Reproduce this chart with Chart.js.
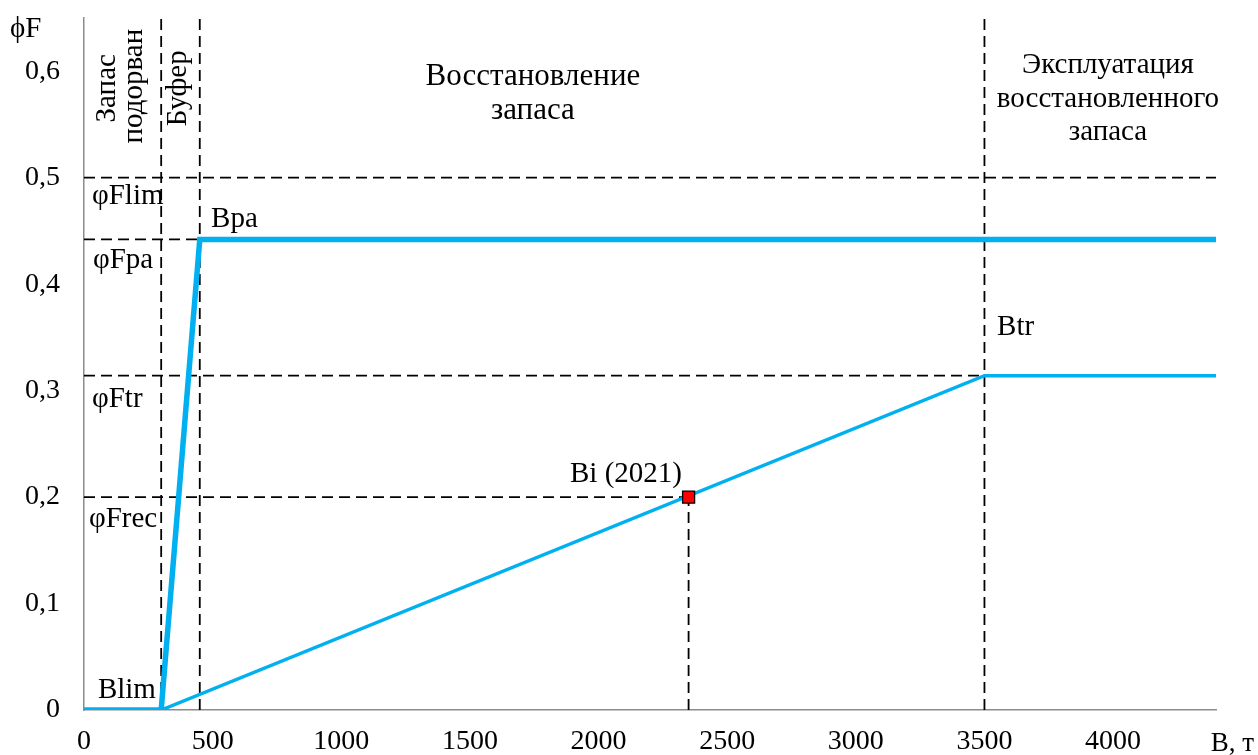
<!DOCTYPE html>
<html>
<head>
<meta charset="utf-8">
<script src="https://cdn.jsdelivr.net/npm/chart.js@4"></script>
<style>
  html, body { margin: 0; padding: 0; background: #fff; }
  #chart { display: block; }
</style>
</head>
<body>
<canvas id="chart" width="1258" height="755"></canvas>
<script>
// reference points (B, т / ϕF)
const bLim = 300, bBuf = 450, bTr = 3500, bCur = 2350;
const fLim = 0.5, fPa = 0.442, fTr = 0.314, fRec = 0.2;
const xMax = 4400, yMax = 0.65;

// control rule lines
const paX = [0, 300, 450, 4400];
const paY = [0, 0, 0.442, 0.442];
const trX = [300, 3500, 4400];
const trY = [0, 0.314, 0.314];

// current stock point
const curX = [2350];
const curY = [0.2];

const xTicks = [0, 500, 1000, 1500, 2000, 2500, 3000, 3500, 4000];
const yTicks = [0, 0.1, 0.2, 0.3, 0.4, 0.5, 0.6];

const BLUE = "#00B0F0";
const FONT = "'Liberation Serif', 'Times New Roman', serif";

const pts = (xs, ys) => xs.map((x, i) => ({ x: x, y: ys[i] }));

function dashed(points) {
  return {
    data: points, showLine: true, borderColor: "#000", borderWidth: 1.8,
    borderDash: [11, 6], pointRadius: 0, fill: false, order: 5
  };
}

// text labels in data coords (baseline)
const labels = [
  { t: "Восстановление", x: 1745, y: 0.587, s: 31 },
  { t: "запаса", x: 1745, y: 0.555, s: 31 },
  { t: "Эксплуатация", x: 3980, y: 0.598 },
  { t: "восстановленного", x: 3980, y: 0.566 },
  { t: "запаса", x: 3980, y: 0.535 },
  { t: "φFlim", x: 31, y: 0.475, a: "left" },
  { t: "Bpa", x: 494, y: 0.454, a: "left" },
  { t: "φFpa", x: 35, y: 0.415, a: "left" },
  { t: "φFtr", x: 31, y: 0.285, a: "left" },
  { t: "φFrec", x: 19, y: 0.172, a: "left" },
  { t: "Btr", x: 3549, y: 0.352, a: "left" },
  { t: "Bi (2021)", x: 1889, y: 0.214, a: "left" },
  { t: "Blim", x: 54, y: 0.011, a: "left" }
];
const vLabels = [
  { t: "Запас", x: 120, y: 0.584 },
  { t: "подорван", x: 225, y: 0.586 },
  { t: "Буфер", x: 396, y: 0.584 }
];

const textPlugin = {
  id: "texts",
  afterDatasetsDraw(chart) {
    const ctx = chart.ctx, xs = chart.scales.x, ys = chart.scales.y;
    ctx.save();
    ctx.fillStyle = "#000";
    ctx.textBaseline = "alphabetic";
    labels.forEach((l) => {
      ctx.font = (l.s || 29) + "px " + FONT;
      ctx.textAlign = l.a || "center";
      ctx.fillText(l.t, xs.getPixelForValue(l.x), ys.getPixelForValue(l.y));
    });
    ctx.font = "29px " + FONT;
    vLabels.forEach((l) => {
      ctx.save();
      ctx.translate(xs.getPixelForValue(l.x), ys.getPixelForValue(l.y));
      ctx.rotate(-Math.PI / 2);
      ctx.textAlign = "center";
      ctx.fillText(l.t, 0, 0);
      ctx.restore();
    });
    // axis titles
    ctx.textAlign = "left";
    ctx.fillText("ϕF", 10, 37);
    ctx.font = "27px " + FONT;
    ctx.textAlign = "right";
    ctx.fillText("В, т", 1254, 751);
    ctx.restore();
  }
};

new Chart(document.getElementById("chart"), {
  type: "scatter",
  data: {
    datasets: [
      dashed([{ x: 0, y: fLim }, { x: xMax, y: fLim }]),
      dashed([{ x: 0, y: fPa }, { x: bBuf, y: fPa }]),
      dashed([{ x: 0, y: fTr }, { x: bTr, y: fTr }]),
      dashed([{ x: 0, y: fRec }, { x: bCur, y: fRec }]),
      dashed([{ x: bLim, y: 0 }, { x: bLim, y: yMax }]),
      dashed([{ x: bBuf, y: 0 }, { x: bBuf, y: yMax }]),
      dashed([{ x: bTr, y: 0 }, { x: bTr, y: yMax }]),
      dashed([{ x: bCur, y: 0 }, { x: bCur, y: fRec }]),
      {
        data: pts(trX, trY), showLine: true, borderColor: BLUE, borderWidth: 3.5,
        pointRadius: 0, fill: false, order: 3
      },
      {
        data: pts(paX, paY), showLine: true, borderColor: BLUE, borderWidth: 5.5,
        pointRadius: 0, fill: false, order: 2, borderJoinStyle: "miter"
      },
      {
        data: pts(curX, curY), pointStyle: "rect", pointRadius: 8.5,
        backgroundColor: "#FF0000", borderColor: "#000", borderWidth: 1.3, order: 1
      }
    ]
  },
  options: {
    responsive: false,
    animation: false,
    events: [],
    layout: { padding: { top: 18, right: 42, left: 0, bottom: 0 } },
    plugins: { legend: { display: false }, tooltip: { enabled: false } },
    scales: {
      x: {
        type: "linear", min: 0, max: xMax,
        grid: { display: false, drawTicks: true, tickLength: 8, color: "#8c8c8c" },
        border: { color: "#8c8c8c", width: 1.5 },
        afterBuildTicks: (s) => { s.ticks = xTicks.map((v) => ({ value: v })); },
        afterFit: (s) => { s.height = 45; s.paddingLeft = 0; s.paddingRight = 0; },
        ticks: {
          color: "#000", font: { family: FONT, size: 28 }, padding: 7,
          maxRotation: 0, autoSkip: false, callback: (v) => String(v)
        }
      },
      y: {
        type: "linear", min: 0, max: yMax,
        grid: { display: false, drawTicks: true, tickLength: 8, color: "#8c8c8c" },
        border: { color: "#8c8c8c", width: 1.5 },
        afterBuildTicks: (s) => { s.ticks = yTicks.map((v) => ({ value: v })); },
        afterFit: (s) => { s.width = 84; s.paddingTop = 0; s.paddingBottom = 0; },
        ticks: {
          color: "#000", font: { family: FONT, size: 28 }, padding: 16,
          callback: (v) => String(Math.round(v * 10) / 10).replace(".", ",")
        }
      }
    }
  },
  plugins: [textPlugin]
});
</script>
</body>
</html>
